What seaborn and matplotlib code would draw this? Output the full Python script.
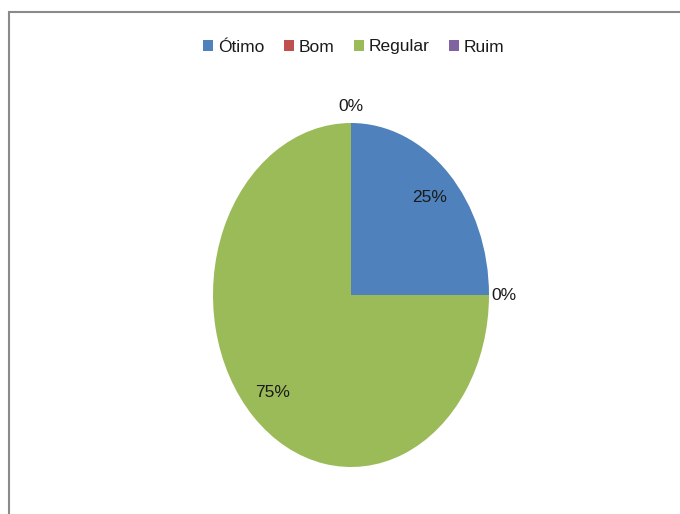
import numpy as np
import matplotlib
matplotlib.use("Agg")
import matplotlib.pyplot as plt
from matplotlib.patches import Rectangle
import seaborn as sns

# Chart data
categories = ["Ótimo", "Bom", "Regular", "Ruim"]
values = [25, 0, 75, 0]
colors = ["#4F81BD", "#C0504D", "#9BBB59", "#8064A2"]

sns.set_theme(style="white")
plt.rcParams['font.family'] = ['Liberation Sans', 'DejaVu Sans']
palette = sns.color_palette(colors)

fig = plt.figure(figsize=(6.8, 5.14), dpi=100)
fig.patch.set_facecolor("white")

# outer chart frame (runs off the right and bottom edges)
fig.add_artist(Rectangle((9 / 680, -0.05), 1.0, 1 - 12 / 514 + 0.05,
                         transform=fig.transFigure, fill=False,
                         edgecolor="#8a8a8a", linewidth=1.5))

ax = fig.add_axes([178.5 / 680, 4 / 514, 345 / 680, 430 / 514])
wedges, _ = ax.pie(values, colors=palette, startangle=90, counterclock=False,
                   wedgeprops=dict(linewidth=0))
ax.set_aspect("auto")
ax.set_xlim(-1.25, 1.25)
ax.set_ylim(-1.25, 1.25)
ax.axis("off")

# percentage labels
total = float(sum(values))
cum = 0.0
for v in values:
    mid = np.deg2rad(90 - 360 * (cum + v / 2) / total)
    cum += v
    pct = "{:.0f}%".format(100 * v / total)
    if v > 0:
        ax.text(0.8 * np.cos(mid), 0.8 * np.sin(mid), pct, ha="center", va="center",
                fontsize=12.5, color="#1a1a1a")
    else:
        c, s = np.cos(mid), np.sin(mid)
        ha = "left" if c > 0.3 else ("right" if c < -0.3 else "center")
        va = "bottom" if s > 0.3 else ("top" if s < -0.3 else "center")
        ax.text(1.02 * c, 1.05 * s, pct, ha=ha, va=va, fontsize=12.5, color="#1a1a1a")

fig.legend(wedges, categories, loc="center", bbox_to_anchor=(354 / 680, 1 - 47 / 514),
           ncol=4, frameon=False, fontsize=12.5, handlelength=0.57, handleheight=0.57,
           handletextpad=0.3, columnspacing=1.1, labelcolor="#1a1a1a")

fig.savefig("out.png", dpi=100)
